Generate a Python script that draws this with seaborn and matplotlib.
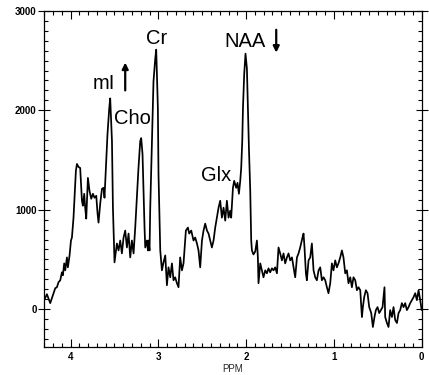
import matplotlib
matplotlib.use("Agg")
import matplotlib.pyplot as plt
import matplotlib.ticker as mticker
import numpy as np
import pandas as pd
import seaborn as sns

# spectrum (ppm, intensity)
ppm = [4.300, 4.269, 4.231, 4.200, 4.174, 4.155, 4.137, 4.117, 4.098, 4.087,
       4.072, 4.060, 4.041, 4.030, 4.011, 3.995, 3.984, 3.966, 3.954, 3.939,
       3.927, 3.909, 3.890, 3.870, 3.859, 3.844, 3.833, 3.821, 3.802, 3.784,
       3.764, 3.745, 3.727, 3.707, 3.692, 3.681, 3.662, 3.642, 3.624, 3.613,
       3.597, 3.579, 3.559, 3.548, 3.528, 3.517, 3.499, 3.472, 3.453, 3.434,
       3.415, 3.396, 3.377, 3.358, 3.339, 3.320, 3.301, 3.282, 3.263, 3.244,
       3.226, 3.206, 3.195, 3.180, 3.169, 3.157, 3.149, 3.130, 3.118, 3.112,
       3.100, 3.092, 3.073, 3.055, 3.035, 3.024, 3.005, 2.998, 2.978, 2.959,
       2.941, 2.921, 2.902, 2.884, 2.864, 2.845, 2.827, 2.808, 2.788, 2.770,
       2.751, 2.731, 2.713, 2.686, 2.663, 2.648, 2.625, 2.599, 2.580, 2.560,
       2.542, 2.523, 2.503, 2.485, 2.466, 2.446, 2.428, 2.409, 2.390, 2.371,
       2.352, 2.333, 2.314, 2.295, 2.276, 2.257, 2.238, 2.219, 2.200, 2.181,
       2.170, 2.150, 2.136, 2.113, 2.098, 2.082, 2.067, 2.056, 2.044, 2.036,
       2.022, 2.007, 1.991, 1.980, 1.968, 1.953, 1.942, 1.934, 1.916, 1.896,
       1.877, 1.866, 1.859, 1.839, 1.820, 1.802, 1.782, 1.763, 1.745, 1.726,
       1.706, 1.688, 1.669, 1.649, 1.631, 1.612, 1.592, 1.574, 1.555, 1.535,
       1.517, 1.498, 1.478, 1.460, 1.441, 1.421, 1.403, 1.384, 1.358, 1.346,
       1.335, 1.319, 1.308, 1.289, 1.270, 1.251, 1.232, 1.213, 1.194, 1.175,
       1.156, 1.137, 1.118, 1.099, 1.080, 1.062, 1.042, 1.023, 1.005, 0.985,
       0.966, 0.948, 0.928, 0.909, 0.891, 0.871, 0.852, 0.834, 0.814, 0.795,
       0.777, 0.757, 0.738, 0.720, 0.700, 0.681, 0.670, 0.655, 0.636, 0.617,
       0.598, 0.575, 0.556, 0.538, 0.522, 0.503, 0.484, 0.465, 0.446, 0.424,
       0.416, 0.396, 0.378, 0.359, 0.339, 0.321, 0.302, 0.282, 0.264, 0.245,
       0.226, 0.207, 0.188, 0.169, 0.150, 0.131, 0.112, 0.093, 0.074, 0.055,
       0.036, 0.017, 0.000]
signal = [90, 150, 60, 140, 210, 220, 270, 290, 370, 340,
          460, 390, 520, 420, 540, 690, 720, 920, 1120, 1390,
          1460, 1430, 1420, 1090, 1040, 1160, 1020, 910, 1320, 1190,
          1110, 1160, 1120, 1140, 960, 870, 1060, 1210, 1220, 1120,
          1420, 1760, 2020, 2120, 1690, 1020, 470, 660, 590, 690,
          560, 720, 790, 620, 760, 520, 690, 560, 820, 1120,
          1420, 1690, 1720, 1560, 1190, 820, 620, 690, 590, 690,
          590, 1020, 1690, 2290, 2520, 2610, 2020, 1360, 590, 390,
          470, 540, 240, 420, 320, 460, 290, 320, 260, 220,
          520, 390, 460, 790, 820, 760, 790, 690, 720, 660,
          590, 420, 690, 790, 860, 790, 760, 690, 620, 690,
          820, 920, 1020, 1090, 920, 1020, 890, 1090, 920, 990,
          920, 1220, 1290, 1220, 1270, 1160, 1290, 1420, 1690, 2020,
          2360, 2570, 2420, 2020, 1620, 1190, 690, 590, 550, 580,
          690, 520, 260, 460, 390, 320, 390, 360, 410, 370,
          410, 390, 420, 360, 620, 560, 490, 560, 460, 520,
          560, 490, 520, 420, 320, 520, 560, 620, 720, 760,
          620, 360, 290, 490, 520, 660, 390, 320, 290, 390,
          420, 290, 320, 290, 220, 160, 260, 460, 390, 490,
          420, 460, 520, 590, 520, 360, 390, 260, 320, 220,
          320, 290, 190, 220, 190, -80, 20, 120, 190, 160,
          20, -40, -180, -80, -10, 20, -40, -10, 20, 220,
          -80, -140, -180, -10, -80, 20, -110, -140, -40, -10,
          60, 20, 60, -10, 20, 60, 90, 120, 160, 90,
          190, 90, -10]

# peak labels: text, ppm, intensity
labels = ["mI", "Cho", "Cr", "NAA", "Glx"]
label_ppm = [3.620, 3.296, 3.024, 2.012, 2.341]
label_val = [2270, 1920, 2720, 2690, 1340]

df = pd.DataFrame({"ppm": ppm, "signal": signal})

sns.set_style("ticks")
plt.rcParams["font.family"] = ["Liberation Sans", "DejaVu Sans"]

fig = plt.figure(figsize=(4.29, 3.75), dpi=100)
ax = fig.add_axes([0.103, 0.075, 0.880, 0.896])

sns.lineplot(data=df, x="ppm", y="signal", ax=ax, color="black",
             linewidth=1.25, estimator=None, sort=False)

ax.set_xlim(4.3, 0.0)
ax.set_ylim(-380, 3000)
ax.xaxis.set_major_locator(mticker.MultipleLocator(1))
ax.xaxis.set_minor_locator(mticker.MultipleLocator(0.1))
ax.yaxis.set_major_locator(mticker.MultipleLocator(1000))
ax.yaxis.set_minor_locator(mticker.MultipleLocator(100))

ax.tick_params(axis="x", which="both", direction="in", top=True, bottom=True,
               labelsize=7, pad=4, width=0.8, colors="black")
ax.tick_params(axis="x", which="major", length=6)
ax.tick_params(axis="x", which="minor", length=3)
ax.tick_params(axis="y", which="both", left=True, right=True,
               labelsize=7, pad=1, width=0.8, colors="black")
ax.tick_params(axis="y", which="major", direction="inout", length=9)
ax.tick_params(axis="y", which="minor", direction="in", length=3)
for lab in ax.get_xticklabels() + ax.get_yticklabels():
    lab.set_fontweight("bold")

for s in ax.spines.values():
    s.set_visible(True)
    s.set_color("black")
    s.set_linewidth(0.9)

ax.set_xlabel("PPM", fontsize=7, labelpad=1)
ax.set_ylabel("")

for t, x, y in zip(labels, label_ppm, label_val):
    ax.text(x, y, t, fontsize=14.5, ha="center", va="center", color="black")

# arrows next to mI (up) and NAA (down)
ax.annotate("", xy=(3.377, 2480), xytext=(3.377, 2200),
            arrowprops=dict(arrowstyle="-|>", color="black", lw=1.6,
                            mutation_scale=9, shrinkA=0, shrinkB=0))
ax.annotate("", xy=(1.657, 2580), xytext=(1.657, 2810),
            arrowprops=dict(arrowstyle="-|>", color="black", lw=1.6,
                            mutation_scale=9, shrinkA=0, shrinkB=0))

fig.savefig("out.png", dpi=100)
